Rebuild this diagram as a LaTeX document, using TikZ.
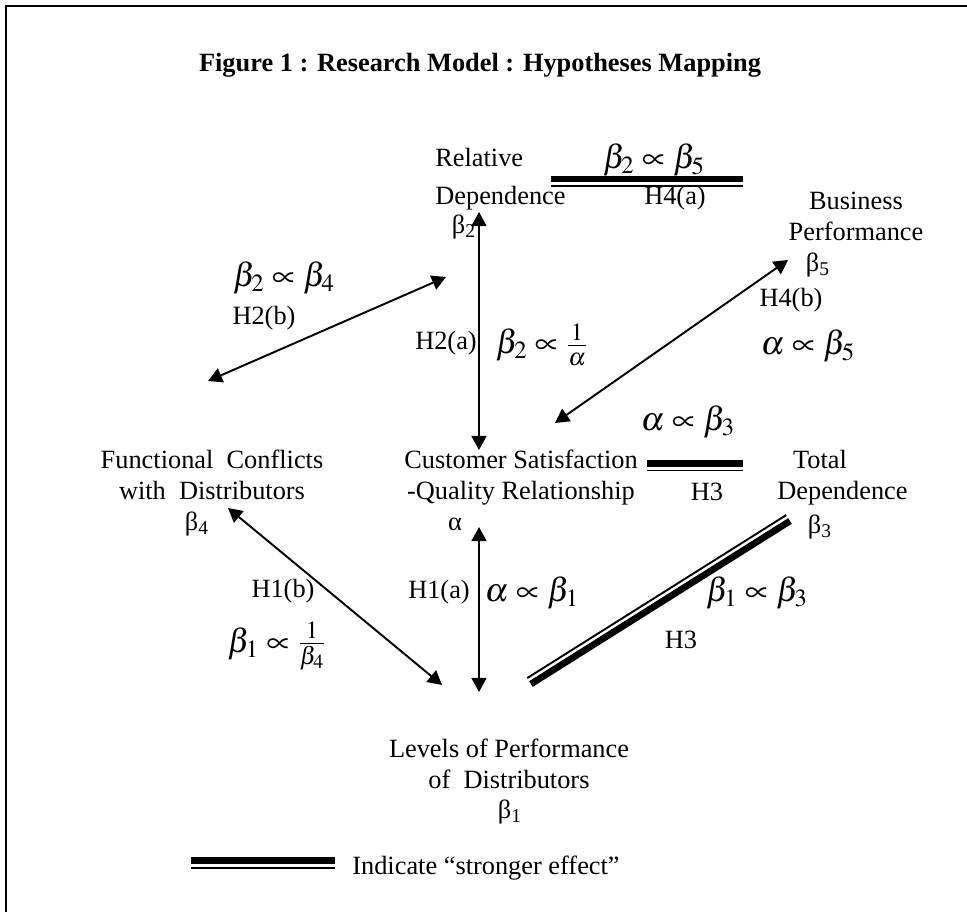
\documentclass[tikz,border=0pt]{standalone}
\usepackage{mathptmx}
\usepackage{fontspec}
\setmainfont{Liberation Serif}
\usetikzlibrary{arrows.meta,calc}

\tikzset{
  lbl/.style={inner sep=0pt, font=\fontsize{15}{17.6}\selectfont},
  rel/.style={inner sep=0pt, font=\fontsize{19}{22}\selectfont},
  link/.style={line width=1.1pt, {Triangle[length=8pt,width=8.5pt]}-{Triangle[length=8pt,width=8.5pt]}},
  thickline/.style={line width=3.8pt},
  thinline/.style={line width=1.1pt},
}

\begin{document}
\begin{tikzpicture}[x=0.02cm, y=-0.02cm]
\useasboundingbox (0,0) rectangle (967,912);
\draw[line width=1.4pt] (6,912) -- (6,6) -- (967,6);

\node[lbl, font=\fontsize{15}{17.6}\selectfont\bfseries] (title) at (480,65) {Figure 1 : Research Model : Hypotheses Mapping};

% constructs
\node[lbl, align=left, anchor=north west] (reldep) at (435,148) {Relative\\[4pt]Dependence};
\node[lbl] (beta2) at (464,227) {β\textsubscript{2}};
\node[lbl, align=center, anchor=north] (busperf) at (856,192) {Business\\Performance};
\node[lbl] (beta5) at (818,265) {β\textsubscript{5}};
\node[lbl, align=center, anchor=north] (funcconf) at (212,450) {Functional~ Conflicts\\with~ Distributors};
\node[lbl] (beta4) at (197,524) {β\textsubscript{4}};
\node[lbl, align=center, anchor=north] (custsat) at (521,450) {Customer Satisfaction\\-Quality Relationship};
\node[lbl] (alpha) at (455,524) {α};
\node[lbl, align=left, anchor=north west] (totdep) at (777,450) {\hspace{9pt}Total\\Dependence};
\node[lbl] (beta3) at (820,527) {β\textsubscript{3}};
\node[lbl, align=center, anchor=north] (levperf) at (509,739) {Levels of Performance\\of~ Distributors};
\node[lbl] (beta1) at (510,812) {β\textsubscript{1}};

% hypotheses
\node[rel] (b2b5) at (654,160) {$\beta_2 \propto \beta_5$};
\node[lbl] (h4a) at (675,198) {H4(a)};
\node[rel] (b2b4) at (284,278) {$\beta_2 \propto \beta_4$};
\node[lbl] (h2b) at (264,318) {H2(b)};
\node[lbl] (h2a) at (446,343) {H2(a)};
\node[rel] (b2inva) at (542,345) {$\beta_2 \propto \frac{1}{\alpha}$};
\node[lbl] (h4b) at (791,300) {H4(b)};
\node[rel] (ab5) at (808,346) {$\alpha \propto \beta_5$};
\node[rel] (ab3) at (688,422) {$\alpha \propto \beta_3$};
\node[lbl] (h3m) at (707,492) {H3};
\node[lbl] (h1b) at (283,591) {H1(b)};
\node[rel] (b1inv4) at (277,646) {$\beta_1 \propto \frac{1}{\beta_4}$};
\node[lbl] (h1a) at (439,592) {H1(a)};
\node[rel] (ab1) at (532,593) {$\alpha \propto \beta_1$};
\node[rel] (b1b3) at (757,593) {$\beta_1 \propto \beta_3$};
\node[lbl] (h3d) at (681,640) {H3};

% arrow ends
\coordinate (reldep-s) at (479,212);
\coordinate (custsat-n) at (479,450);
\coordinate (reldep-sw) at (446,277);
\coordinate (funcconf-ne) at (208,381);
\coordinate (busperf-sw) at (788,260);
\coordinate (custsat-ne) at (555,423);
\coordinate (funcconf-se) at (228,508);
\coordinate (levperf-nw) at (442,685);
\coordinate (custsat-s) at (479,527);
\coordinate (levperf-n) at (479,692);

\draw[link] (reldep-s) -- (custsat-n);
\draw[link] (reldep-sw) -- (funcconf-ne);
\draw[link] (busperf-sw) -- (custsat-ne);
\draw[link] (funcconf-se) -- (levperf-nw);
\draw[link] (custsat-s) -- (levperf-n);

% stronger effect lines
\coordinate (h4a-w) at (551,179);
\coordinate (h4a-e) at (743,179);
\draw[thickline] (h4a-w) -- (h4a-e);
\draw[thinline] ($(h4a-w)!4pt!-90:(h4a-e)$) -- ($(h4a-e)!4pt!90:(h4a-w)$);

\coordinate (h3m-w) at (647,463.5);
\coordinate (h3m-e) at (743,463.5);
\draw[thickline] (h3m-w) -- (h3m-e);
\draw[thinline] ($(h3m-w)!4pt!-90:(h3m-e)$) -- ($(h3m-e)!4pt!90:(h3m-w)$);

\coordinate (levperf-ne) at (531,684);
\coordinate (totdep-sw) at (790,521);
\draw[thickline] (levperf-ne) -- (totdep-sw);
\draw[thinline] ($(levperf-ne)!4pt!90:(totdep-sw)$) -- ($(totdep-sw)!4pt!-90:(levperf-ne)$);

% legend
\coordinate (key-w) at (191,860.5);
\coordinate (key-e) at (335,860.5);
\draw[thickline] (key-w) -- (key-e);
\draw[thinline] ($(key-w)!4pt!-90:(key-e)$) -- ($(key-e)!4pt!90:(key-w)$);
\node[lbl, anchor=west] (keytext) at (352,868) {Indicate ``stronger effect''};
\end{tikzpicture}
\end{document}
